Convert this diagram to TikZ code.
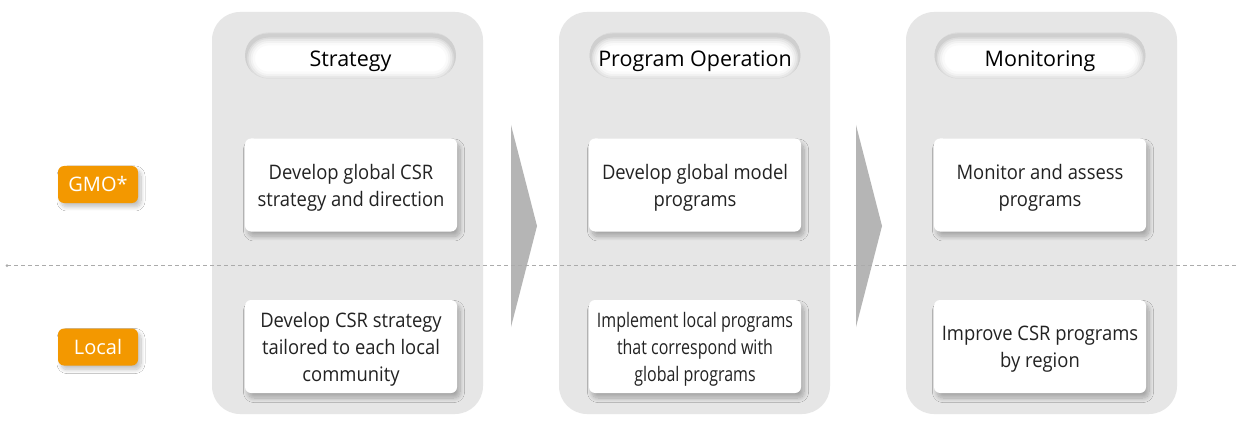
\documentclass[tikz,border=0pt]{standalone}
\usepackage{fontspec}
\setmainfont{Open Sans}
\newfontfamily\cardfont[FakeStretch=0.92]{Open Sans}
\newfontfamily\narrowfont[FakeStretch=0.8]{Open Sans}
\usetikzlibrary{shadows.blur}
\definecolor{panelgray}{HTML}{E6E6E6}
\definecolor{arrowgray}{HTML}{B5B5B5}
\definecolor{dashgray}{HTML}{ABABAB}
\definecolor{orangelbl}{HTML}{F39800}
\definecolor{cardtext}{HTML}{222222}
\tikzset{
  panel/.style={fill=panelgray, draw=none, rounded corners=28pt,
    minimum width=271pt, minimum height=402pt, inner sep=0pt},
  pill/.style={fill=white, draw=none, rounded corners=23pt,
    minimum width=211pt, minimum height=46pt, inner sep=0pt,
    text height=23pt, text depth=0pt,
    font=\fontsize{21.5}{26}\selectfont, text=black,
    path picture={
      \foreach \w/\o in {20/0.02, 15/0.03, 11/0.04, 7/0.05, 4/0.06}
        \draw[line width=\w pt, black, opacity=\o, rounded corners=23pt]
          ([yshift=-3pt]path picture bounding box.south west) rectangle
          ([yshift=-3pt]path picture bounding box.north east);
    }},
  card/.style={fill=white, draw=none, rounded corners=6pt,
    minimum width=212pt, minimum height=93pt, inner sep=0pt,
    align=center, text=cardtext, text depth=0pt,
    font=\cardfont\fontsize{20}{27}\selectfont,
    blur shadow={shadow xshift=3pt, shadow yshift=-5pt,
      shadow blur radius=4.5pt, shadow blur steps=12, shadow opacity=28}},
  lbl/.style={fill=orangelbl, draw=none, rounded corners=6pt,
    minimum width=80pt, minimum height=37pt, inner sep=0pt,
    text height=14.5pt, text depth=0pt,
    text=white, font=\fontsize{20}{24}\selectfont,
    blur shadow={shadow xshift=3pt, shadow yshift=-4pt,
      shadow blur radius=4pt, shadow blur steps=12, shadow opacity=25}},
  chevron/.style={fill=arrowgray, draw=none},
  divider/.style={draw=dashgray, line width=1pt, dash pattern=on 4pt off 3pt}
}
\begin{document}
\begin{tikzpicture}[x=1pt,y=1pt]
\useasboundingbox[fill=white] (0,0) rectangle (1236,421);

% panels
\node[panel] (p1) at (347.5,208) {};
\node[panel] (p2) at (694.5,208) {};
\node[panel] (p3) at (1041.5,208) {};

% headers
\node[pill] (h1) at (350.5,365.5) {Strategy};
\node[pill] (h2) at (695,365.5) {Program Operation};
\node[pill] (h3) at (1040,365.5) {Monitoring};

% chevrons
\path[chevron] (511,296) -- (537,195) -- (511,94) -- cycle;
\path[chevron] (856,296) -- (882,195) -- (856,94) -- cycle;

% cards
\node[card] (g1) at (351,236) {Develop global CSR\\strategy and direction};
\node[card] (g2) at (695,236) {Develop global model\\programs};
\node[card] (g3) at (1040,236) {Monitor and assess\\programs};
\node[card] (l1) at (351,74.5) {Develop CSR strategy\\tailored to each local\\community};
\node[card, font=\narrowfont\fontsize{20}{27}\selectfont] (l2) at (695,74.5) {Implement local programs\\that correspond with\\global programs};
\node[card] (l3) at (1040,74.5) {Improve CSR programs\\by region};

% labels
\node[lbl] (gmo) at (98,236.5) {GMO*};
\node[lbl] (loc) at (98,74) {Local};

% divider
\coordinate (dl) at (7,155.5);
\coordinate (dr) at (1236,155.5);
\draw[divider] (dl) -- (dr);
\fill[dashgray] (dl) circle (1.5pt);
\end{tikzpicture}
\end{document}
